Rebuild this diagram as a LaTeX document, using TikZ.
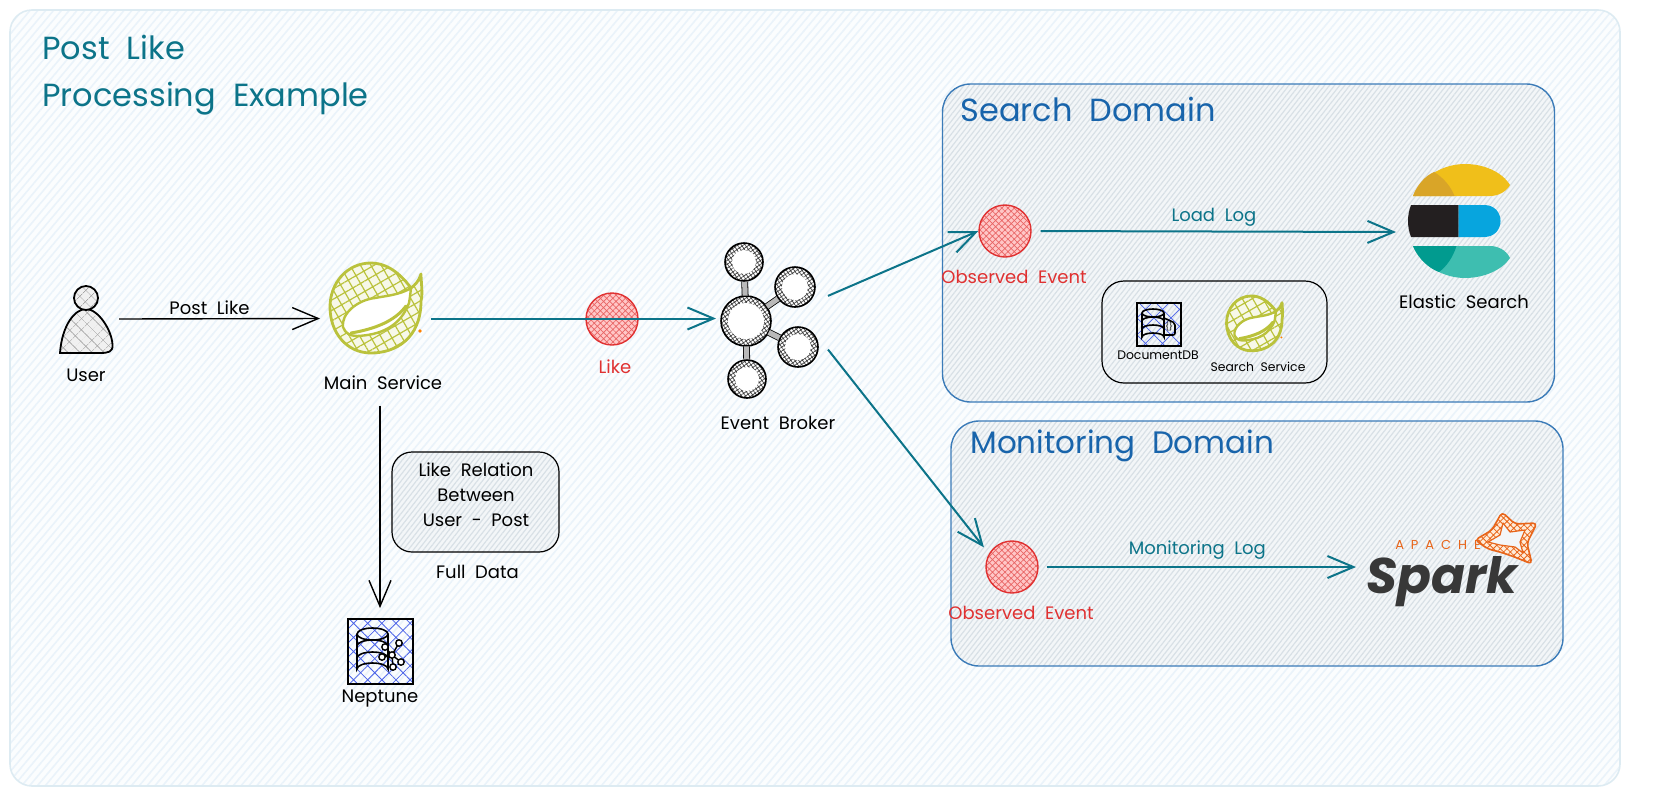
\documentclass[tikz,border=0pt]{standalone}
\usepackage{fontspec}
\setmainfont[WordSpace=2]{Poppins}
\usepackage{xcolor}
\usepackage{tikz}
\usetikzlibrary{arrows.meta, patterns.meta}

\definecolor{teal1}{HTML}{0C7489}
\definecolor{domainblue}{HTML}{1864AB}
\definecolor{redline}{HTML}{E03131}
\definecolor{leafgreen}{HTML}{BAC23C}
\definecolor{hatchblue}{HTML}{4A62E8}
\definecolor{sparkorange}{HTML}{E8651A}
\definecolor{boardfill}{HTML}{FBFDFE}
\definecolor{boardline}{HTML}{EAF3FA}
\definecolor{boardedge}{HTML}{DDEBF2}
\definecolor{domainfill}{HTML}{F3F6F8}
\definecolor{domainline}{HTML}{D8E0E6}
\definecolor{elasticyellow}{HTML}{F0BF1A}
\definecolor{elasticgold}{HTML}{D9A528}
\definecolor{elasticblue}{HTML}{07A5DE}
\definecolor{elasticblack}{HTML}{231F20}
\definecolor{elasticgreen}{HTML}{3EBEB0}
\definecolor{elasticteal}{HTML}{019B8F}

\tikzset{
    springleaf/.pic={
        \fill[white] (36,-21) .. controls (22,-40) and (8,-46) .. (-4,-46) .. controls (-28,-46) and (-45,-26) .. (-45,-2) .. controls (-45,24) and (-28,44) .. (-4,44) .. controls (20,44) and (46,30) .. (46,-8) .. controls (48,-15) and (46,-28) .. (46,-35) .. controls (44,-28) and (40,-24) .. cycle;
        \draw[draw=leafgreen, line width=1.4pt, line join=round, preaction={fill=leafgreen!12}, pattern={Hatch[angle=30,distance=4.5pt,line width=.6pt]}, pattern color=leafgreen] (36,-21) .. controls (22,-40) and (8,-46) .. (-4,-46) .. controls (-28,-46) and (-45,-26) .. (-45,-2) .. controls (-45,24) and (-28,44) .. (-4,44) .. controls (20,44) and (46,30) .. (46,-8) .. controls (48,-15) and (46,-28) .. (46,-35) .. controls (44,-28) and (40,-24) .. cycle;
        \draw[draw=leafgreen, line width=1.2pt, line join=round, fill=white] (36,-21) .. controls (25,-14) and (10,-13) .. (0,-11) .. controls (-18,-9) and (-34,5) .. (-32,18) .. controls (-30,24) and (-25,27) .. (-18,27) .. controls (5,26) and (25,18) .. (34,-6) .. controls (35,-12) .. cycle;
        \draw[draw=leafgreen, line width=1.5pt, line cap=round] (-24,24) .. controls (0,20) and (20,12) .. (31,-3);
        \fill[orange] (45,22) circle (.9pt);
    }
}

\begin{document}
\begin{tikzpicture}[
    x=.5pt, y=-.5pt,
    boardbox/.style={rectangle, rounded corners=11pt, draw=boardedge, line width=.8pt, preaction={fill=boardfill}, pattern={Lines[angle=50,distance=3pt,line width=.8pt]}, pattern color=boardline, minimum width=805pt, minimum height=388pt},
    domainbox/.style={rectangle, rounded corners=14pt, draw=domainblue!85, line width=.7pt, preaction={fill=domainfill}, pattern={Lines[angle=52,distance=2pt,line width=.6pt]}, pattern color=domainline, minimum width=306pt},
    groupbox/.style={rectangle, rounded corners=11pt, draw=black, line width=.6pt, minimum width=112.5pt, minimum height=51pt},
    notebox/.style={rectangle, rounded corners=10pt, draw=black, line width=.6pt, preaction={fill=domainfill}, pattern={Lines[angle=52,distance=2pt,line width=.6pt]}, pattern color=domainline, minimum width=83.5pt, minimum height=50pt, align=center},
    txt/.style={font=\fontsize{9}{12.5}\selectfont, inner sep=0pt, align=center},
    smalltxt/.style={font=\fontsize{6.2}{8}\selectfont, inner sep=0pt},
    redtxt/.style={txt, text=redline},
    tealtxt/.style={txt, text=teal1},
    heading/.style={font=\fontsize{16}{23.5}\selectfont, inner sep=0pt, align=left},
    eventdot/.style={circle, draw=redline, line width=.7pt, preaction={fill=red!22}, pattern={Hatch[angle=45,distance=2.2pt,line width=.35pt]}, pattern color=redline!75, minimum size=26pt, inner sep=0pt},
    dbicon/.style={rectangle, draw=black, line width=1pt, pattern={Hatch[angle=45,distance=5pt,line width=.4pt]}, pattern color=hatchblue, inner sep=0pt},
    anchorbox/.style={inner sep=0pt, outer sep=0pt},
    stem/.style={draw=black, line width=.4pt, double=gray!55, double distance=2.6pt},
    arrow/.style={-{Straight Barb[length=13pt, width=11pt]}, line width=.7pt},
    tealarrow/.style={arrow, draw=teal1, line width=1pt}
]
\useasboundingbox (0,0) rectangle (1658,793);

% Background
\node[boardbox] (board) at (815,398) {};
\node[heading, anchor=west, text=teal1] (title) at (42,75) {Post Like\\Processing Example};

% Domains
\node[domainbox, minimum height=159pt] (searchdomain) at (1248.5,243) {};
\node[domainbox, minimum height=122.5pt] (monitordomain) at (1257,543.5) {};
\node[heading, anchor=west, text=domainblue] (searchtitle) at (960,109) {Search Domain};
\node[heading, anchor=west, text=domainblue, font=\fontsize{15.5}{20}\selectfont] (monitortitle) at (970,446) {Monitoring Domain};
\node[groupbox] (searchgroup) at (1214.5,332) {};

% User
\node[anchorbox, minimum width=33pt] (user) at (86,319) {};
\draw[line width=.9pt, preaction={fill=gray!12}, pattern={Hatch[angle=45,distance=4pt,line width=.3pt]}, pattern color=gray!70] (60,353) .. controls (62,325) and (75,309) .. (86,309) .. controls (98,309) and (112,330) .. (112.5,345) .. controls (113,352) and (108,353) .. (100,353) -- cycle;
\node[circle, draw=black, line width=.9pt, preaction={fill=gray!12}, pattern={Hatch[angle=45,distance=4pt,line width=.3pt]}, pattern color=gray!70, minimum size=12pt, inner sep=0pt] (userhead) at (86,298) {};
\node[txt] (userlabel) at (86,375) {User};

% Main service
\node[anchorbox, minimum width=55.5pt, minimum height=87pt] (mainservice) at (375.5,318.5) {};
\pic at (375,309) {springleaf};
\node[txt] (mainlabel) at (383,383) {Main Service};

% Neptune
\node[dbicon, minimum size=32.5pt] (neptune) at (380,651) {};
\draw[line width=.8pt] (357,634) -- (357,669) arc[start angle=180, end angle=360, x radius=15.5, y radius=6] -- (388,634);
\draw[line width=.8pt] (372.5,634) ellipse [x radius=15.5, y radius=6];
\draw[line width=.8pt] (357,646) arc[start angle=180, end angle=360, x radius=15.5, y radius=6];
\draw[line width=.8pt] (357,658) arc[start angle=180, end angle=360, x radius=15.5, y radius=6];
\foreach \px/\py in {382/657, 385/647, 399/643, 401/662, 393/667} {
    \draw[line width=.7pt] (392,655) -- (\px,\py);
}
\foreach \px/\py in {392/655, 382/657, 385/647, 399/643, 401/662, 393/667} {
    \draw[line width=.7pt, fill=white] (\px,\py) circle (1.6pt);
}
\node[txt] (neptunelabel) at (380,699) {Neptune};

% Note
\node[notebox] (relation) at (475.5,502) {};
\node[txt] (relationtext) at (476,495) {Like Relation\\Between\\User - Post};
\node[txt] (fulldata) at (477.5,572) {Full Data};

% Like event
\node[eventdot] (like) at (612,319) {};
\node[redtxt] (likelabel) at (615,367) {Like};

% Event broker
\node[anchorbox, minimum width=56pt, minimum height=80pt] (broker) at (772,318.5) {};
\foreach \dotname/\px/\py/\r in {hub/746/321/25, bra/744/262/19, brb/795/287/20, brc/798/347/20, brd/747/379/19} {
    \node[circle, draw=black, line width=.8pt, preaction={fill=white}, pattern={Hatch[angle=35,distance=1.6pt,line width=.35pt]}, pattern color=black!75, minimum size=\r pt, inner sep=0pt] (\dotname) at (\px,\py) {};
}
\foreach \dotname in {bra, brb, brc, brd} {
    \draw[stem] (hub) -- (\dotname);
}
\foreach \dotname/\r in {hub/18, bra/12, brb/13, brc/13, brd/12} {
    \fill[white] (\dotname) circle (\r*.5pt);
}
\node[txt] (brokerlabel) at (778,423) {Event Broker};

% Search domain
\node[eventdot] (observeda) at (1005,231) {};
\node[redtxt] (observedalabel) at (1014,277) {Observed Event};
\node[txt, text=black] (elasticlabel) at (1464,302) {Elastic Search};
\node[anchorbox, minimum width=51pt, minimum height=57pt] (elastic) at (1447,232) {};
\fill[elasticyellow] (1413,196) .. controls (1420,178) and (1442,164) .. (1465,164) .. controls (1484,164) and (1502,172) .. (1510,185) .. controls (1506,192) and (1498,196) .. (1490,196) -- cycle;
\fill[elasticgold] (1413,196) .. controls (1417,185) and (1425,176) .. (1434,172) .. controls (1444,178) and (1451,187) .. (1454.5,196) -- cycle;
\fill[elasticblack] (1411,205) -- (1458.6,205) -- (1458.6,237) -- (1411,237) .. controls (1407,227) and (1407,215) .. cycle;
\fill[elasticblue] (1458.6,205) -- (1484,205) .. controls (1506,205) and (1506,237) .. (1484,237) -- (1458.6,237) -- cycle;
\fill[elasticgreen] (1413,246) -- (1490,246) .. controls (1498,246) and (1506,250) .. (1510,258) .. controls (1502,270) and (1484,278) .. (1465,278) .. controls (1442,278) and (1420,264) .. cycle;
\fill[elasticteal] (1413,246) -- (1456.5,246) .. controls (1453,257) and (1447,266) .. (1439,272) .. controls (1428,268) and (1418,258) .. cycle;

% Search group
\node[dbicon, minimum width=22pt, minimum height=21.5pt, pattern={Hatch[angle=45,distance=6pt,line width=.35pt]}] (documentdb) at (1158.5,324.5) {};
\draw[line width=.8pt] (1142,313) -- (1142,337) arc[start angle=180, end angle=360, x radius=11, y radius=4] -- (1164,313);
\draw[line width=.8pt] (1153,313) ellipse [x radius=11, y radius=4];
\draw[line width=.8pt] (1142,321) arc[start angle=180, end angle=360, x radius=11, y radius=4];
\draw[line width=.8pt] (1142,329) arc[start angle=180, end angle=360, x radius=11, y radius=4];
\draw[line width=.8pt, rounded corners=1pt] (1164,318) -- (1175,323) -- (1175,335) -- (1164,335);
\node[inner sep=0pt, font=\fontsize{4}{4}\selectfont] (docbraces) at (1169,327) {\{\}};
\node[smalltxt] (documentdblabel) at (1158,355) {DocumentDB};
\pic[scale=.61] at (1254,324) {springleaf};
\node[smalltxt] (searchservicelabel) at (1258,367) {Search Service};

% Monitoring domain
\node[eventdot] (observedb) at (1012,567) {};
\node[redtxt] (observedblabel) at (1021,613) {Observed Event};
\node[anchorbox, minimum width=87pt, minimum height=40pt] (spark) at (1443,567) {};
\draw[draw=sparkorange, line width=.8pt, line join=round, rounded corners=2pt, preaction={fill=orange!15}, pattern={Hatch[angle=45,distance=2.4pt,line width=.4pt]}, pattern color=sparkorange] (1502,512) -- (1515,524) -- (1537,523) -- (1527,543) -- (1532,564) -- (1512,556) -- (1500,552) -- (1488,549) -- (1475,540) -- (1492,530) -- cycle;
\draw[draw=sparkorange, line width=.6pt, line join=round, fill=domainfill] (1503,523) -- (1510,532) -- (1525,530) -- (1520,542) -- (1523,553) -- (1515,547) -- (1500,545) -- (1488,542) -- (1500,535) -- cycle;
\node[inner sep=0pt, font=\fontsize{25}{25}\selectfont\itshape\bfseries, text=black!78] (sparktext) at (1442,582) {Spark};
\node[inner sep=0pt, font=\fontsize{6.5}{8}\selectfont, text=sparkorange] (apache) at (1438,545) {A P A C H E};

% Connections
\draw[arrow] (user.east) -- (mainservice.west) node[midway, above=1.5pt, xshift=-5pt, txt] (postlikelabel) {Post Like};
\draw[arrow, shorten >=5pt] (mainservice.south -| neptune.north) -- (neptune.north);
\draw[tealarrow] (mainservice.east) -- (broker.west);
\draw[tealarrow] (broker.22) -- (observeda.west);
\draw[tealarrow, shorten >=4pt] (broker.-29) -- (observedb.150);
\draw[tealarrow, shorten <=4.5pt] (observeda.east) -- (elastic.west) node[midway, above=2pt, tealtxt] (loadlog) {Load Log};
\draw[tealarrow, shorten <=4pt] (observedb.east) -- (spark.west) node[midway, above=3.5pt, tealtxt] (monitorlog) {Monitoring Log};

\end{tikzpicture}
\end{document}
